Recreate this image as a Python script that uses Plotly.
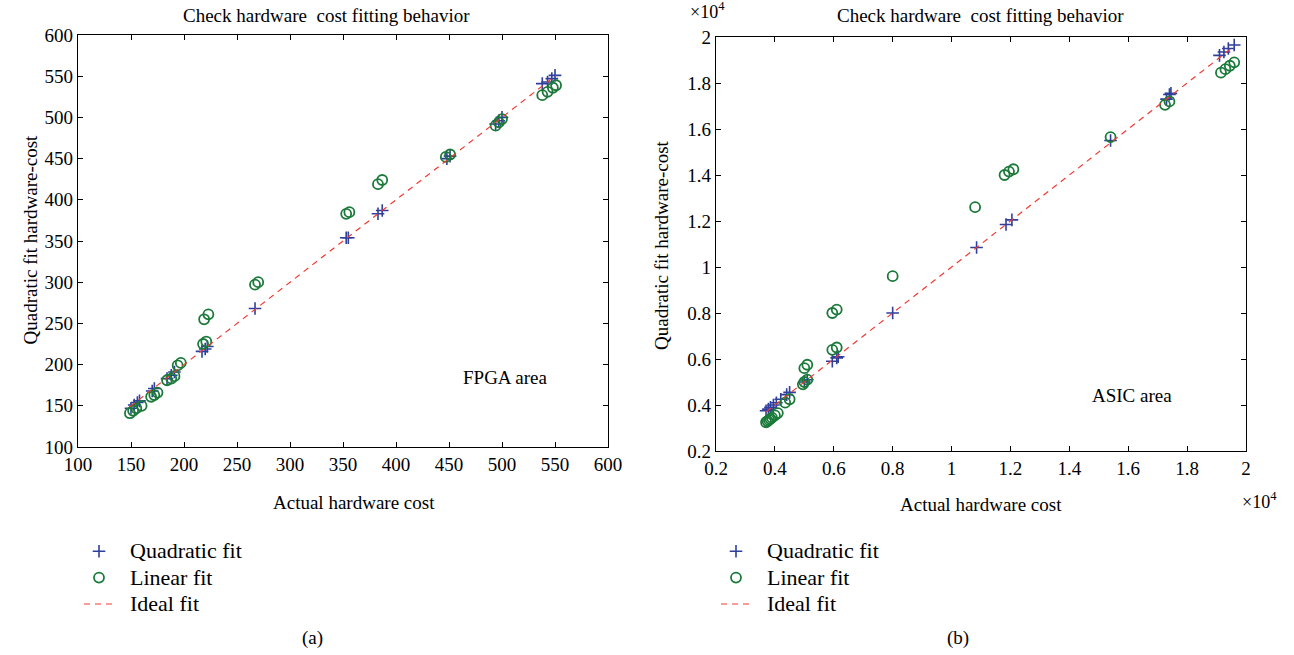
import plotly.graph_objects as go

# ---------------- data (a) FPGA area ----------------
fpga_quad_actual = [150, 153, 156, 158, 170, 172, 184, 188, 191, 217, 220, 222, 267,
                    353, 355, 383, 387, 448, 451, 494, 497, 500, 538, 543, 547, 550]
fpga_quad_fit = [147, 151, 154, 156, 168, 171, 183, 187, 191, 216, 219, 222, 268,
                 354, 354, 383, 387, 450, 453, 492, 496, 500, 541, 543, 547, 551]
fpga_lin_actual = [149, 152, 155, 160, 169, 172, 175, 184, 188, 191, 194, 197, 218, 221,
                   219, 223, 267, 270, 353, 356, 383, 387, 447, 451, 494, 497, 500,
                   538, 543, 548, 551]
fpga_lin_fit = [141, 144, 147, 150, 161, 163, 166, 181, 183, 186, 199, 202, 225, 228,
                255, 261, 297, 300, 383, 385, 419, 424, 452, 455, 490, 494, 498,
                527, 531, 536, 539]

# ---------------- data (b) ASIC area ----------------
asic_quad_actual = [3700, 3780, 3850, 3950, 4050, 4200, 4400, 4500, 5000, 5100, 5950,
                    6100, 6150, 8000, 10850, 11850, 12050, 15400, 17300, 17400, 17450,
                    19100, 19250, 19400, 19600]
asic_quad_fit = [3750, 3820, 3900, 4000, 4100, 4250, 4450, 4550, 5000, 5100, 5900,
                 6050, 6100, 8000, 10850, 11850, 12050, 15500, 17300, 17500, 17550,
                 19200, 19350, 19500, 19650]
asic_lin_actual = [3700, 3750, 3800, 3850, 3900, 4000, 4100, 4350, 4500, 4950, 5000,
                   5100, 5000, 5100, 5950, 6100, 5950, 6100, 8000, 10800, 11800, 11950,
                   12100, 15400, 17250, 17400, 19150, 19300, 19450, 19600]
asic_lin_fit = [3250, 3300, 3350, 3400, 3450, 3550, 3650, 4100, 4250, 4900, 5000,
                5100, 5600, 5750, 6400, 6500, 8000, 8150, 9600, 12600, 14000, 14150,
                14250, 15650, 17050, 17200, 18450, 18600, 18750, 18900]
SCALE = 1e4

left_ticks = [100, 150, 200, 250, 300, 350, 400, 450, 500, 550, 600]
right_ticks = [0.2, 0.4, 0.6, 0.8, 1.0, 1.2, 1.4, 1.6, 1.8, 2.0]
right_tick_text = ["0.2", "0.4", "0.6", "0.8", "1", "1.2", "1.4", "1.6", "1.8", "2"]
legend_labels = ["Quadratic fit", "Linear fit", "Ideal fit"]

FONT = "Liberation Serif"
BLUE = "#2f3f9c"
GREEN = "#1b7a3a"
RED = "#ee3b34"
W, H = 1294, 655
FS = 19


def leg_name(s):
    return "<span style='font-size:22px'>\u00a0\u00a0" + s + "</span>"


fig = go.Figure()


def add_panel(xa, ya, qa, qf, la, lf, legend, scale=1.0):
    qa_s = [v / scale for v in qa]
    qf_s = [v / scale for v in qf]
    la_s = [v / scale for v in la]
    lf_s = [v / scale for v in lf]
    lo = min(qa_s + la_s)
    hi = max(qa_s + la_s)
    fig.add_trace(go.Scatter(x=qa_s, y=qf_s, mode="markers", name=leg_name(legend_labels[0]),
                             xaxis=xa, yaxis=ya, legend=legend,
                             marker=dict(symbol="cross-thin-open", size=9,
                                         line=dict(color=BLUE, width=1.6), color=BLUE)))
    fig.add_trace(go.Scatter(x=la_s, y=lf_s, mode="markers", name=leg_name(legend_labels[1]),
                             xaxis=xa, yaxis=ya, legend=legend,
                             marker=dict(symbol="circle-open", size=10,
                                         line=dict(color=GREEN, width=1.8), color=GREEN)))
    fig.add_trace(go.Scatter(x=[lo, hi], y=[lo, hi], mode="lines", name=leg_name(legend_labels[2]),
                             xaxis=xa, yaxis=ya, legend=legend,
                             line=dict(color=RED, width=1.2, dash="6px,5px")))


add_panel("x", "y", fpga_quad_actual, fpga_quad_fit, fpga_lin_actual, fpga_lin_fit, "legend")
add_panel("x2", "y2", asic_quad_actual, asic_quad_fit, asic_lin_actual, asic_lin_fit, "legend2", SCALE)

axis_common = dict(showgrid=False, zeroline=False, showline=True, linecolor="black",
                   linewidth=1.2, mirror="ticks", ticks="inside", ticklen=5,
                   tickcolor="black", tickwidth=1, automargin=False,
                   tickfont=dict(family=FONT, size=FS, color="black"))

fig.update_layout(
    width=W, height=H,
    margin=dict(l=0, r=0, t=0, b=0, autoexpand=False),
    plot_bgcolor="white", paper_bgcolor="white",
    font=dict(family=FONT, size=FS, color="black"),
    xaxis=dict(domain=[78 / W, 608 / W], range=[100, 600], tickvals=left_ticks,
               anchor="y", **axis_common),
    yaxis=dict(domain=[1 - 447 / H, 1 - 35 / H], range=[100, 600], tickvals=left_ticks,
               anchor="x", **axis_common),
    xaxis2=dict(domain=[716 / W, 1246 / W], range=[0.2, 2.0], tickvals=right_ticks,
                ticktext=right_tick_text, anchor="y2", **axis_common),
    yaxis2=dict(domain=[1 - 451 / H, 1 - 37 / H], range=[0.2, 2.0], tickvals=right_ticks,
                ticktext=right_tick_text, anchor="x2", **axis_common),
    legend=dict(x=79 / W, y=1 - 533 / H, xanchor="left", yanchor="top",
                font=dict(family=FONT, size=18), bgcolor="rgba(0,0,0,0)",
                itemwidth=30, tracegroupgap=0),
    legend2=dict(x=716 / W, y=1 - 533 / H, xanchor="left", yanchor="top",
                 font=dict(family=FONT, size=18), bgcolor="rgba(0,0,0,0)",
                 itemwidth=30, tracegroupgap=0),
    showlegend=True,
)


def txt(x, y, s, size=FS, xanchor="center"):
    fig.add_annotation(x=x / W, y=1 - y / H, xref="paper", yref="paper", text=s,
                       showarrow=False, xanchor=xanchor, yanchor="middle",
                       font=dict(family=FONT, size=size, color="black"))


txt(326, 15, "Check hardware  cost fitting behavior")
txt(980, 15, "Check hardware  cost fitting behavior")
txt(354, 502, "Actual hardware cost")
txt(981, 504, "Actual hardware cost")
txt(707, 11, "×10<sup>4</sup>", size=18)
txt(1259, 500, "×10<sup>4</sup>", size=18)
txt(312, 638, "(a)")
txt(958, 638, "(b)")
fig.add_annotation(x=503, y=184, xref="x", yref="y", text="FPGA area", showarrow=False,
                   font=dict(family=FONT, size=FS, color="black"))
fig.add_annotation(x=1.613, y=0.44, xref="x2", yref="y2", text="ASIC area", showarrow=False,
                   font=dict(family=FONT, size=FS, color="black"))
fig.add_annotation(x=18 / W, y=1 - 240 / H, xref="paper", yref="paper",
                   text="Quadratic fit hardware-cost", textangle=-90, showarrow=False,
                   font=dict(family=FONT, size=FS, color="black"))
fig.add_annotation(x=661 / W, y=1 - 245 / H, xref="paper", yref="paper",
                   text="Quadratic fit hardware-cost", textangle=-90, showarrow=False,
                   font=dict(family=FONT, size=FS, color="black"))

fig.write_html("out.html",
               config={"displayModeBar": False},
               post_script="document.body.style.margin='0px';"
                           "document.body.style.overflow='hidden';")
